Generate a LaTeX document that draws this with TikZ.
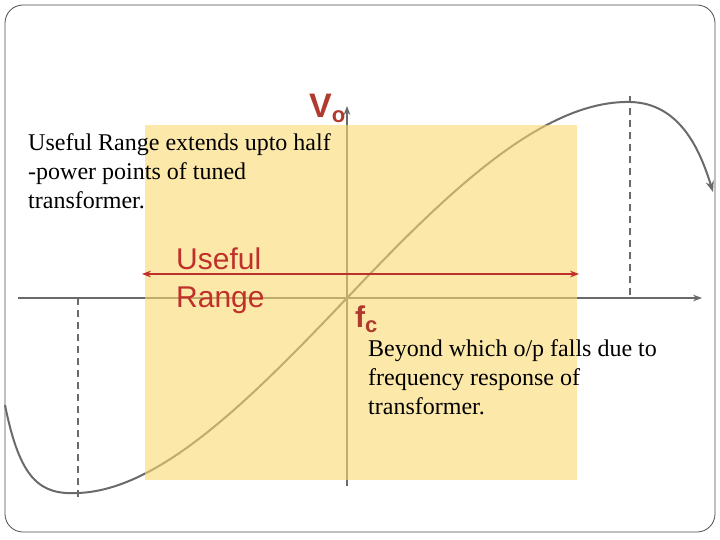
\documentclass[tikz,border=0pt]{standalone}
\usepackage{fontspec}
\setmainfont{Liberation Serif}
\setsansfont{Liberation Sans}
\usetikzlibrary{arrows.meta}
\definecolor{redt}{HTML}{C0302A}
\definecolor{lab}{HTML}{B03A2E}
\definecolor{yel}{HTML}{FAD870}
\definecolor{ax}{HTML}{6A6A6A}
\tikzset{axis/.style={draw=ax,line width=1.3pt,-{Stealth[length=9pt]}},
dashline/.style={draw=ax,line width=1.4pt,dash pattern=on 7pt off 5pt},
note/.style={font=\fontsize{24}{29}\selectfont,align=left,anchor=north west,inner sep=0pt}}
\begin{document}
\begin{tikzpicture}[x=1pt,y=-1pt]
\useasboundingbox (0,0) rectangle (720,540);
\draw[draw=black!70,line width=0.8pt,rounded corners=18pt] (5,5) rectangle (715,532);
\coordinate (xa) at (18,298); \coordinate (xb) at (702,298);
\coordinate (ya) at (347,486); \coordinate (yb) at (347,106);
\draw[axis] (xa) -- (xb);
\draw[axis] (ya) -- (yb);
\draw[dashline] (78,298) -- (78,502);
\draw[dashline] (630,96) -- (630,298);
\draw[draw=ax,line width=2pt,-{Stealth[length=11pt]}] (5,405) .. controls (20,480) and (40,495) .. (78,493)
 .. controls (160,490) and (250,400) .. (347,298)
 .. controls (440,200) and (540,100) .. (630,102)
 .. controls (680,103) and (700,150) .. (713,192);
\fill[yel,opacity=0.6] (145,125) rectangle (577,480);
\draw[redt,line width=1.3pt,{Stealth[length=9pt]}-{Stealth[length=9pt]}] (142,274) -- (579,274);
\node[note] (t1) at (28,133) {Useful Range extends upto half\\-power points of tuned\\transformer.};
\node[note] (t2) at (368,339) {Beyond which o/p falls due to\\frequency response of\\transformer.};
\node[font=\sffamily\fontsize{30}{38}\selectfont,text=redt,align=left,anchor=north west,inner sep=0pt] (u) at (176,248) {Useful\\Range};
\node[font=\sffamily\bfseries\fontsize{34}{34}\selectfont,text=lab,anchor=base west,inner sep=0pt] (v) at (309,118) {V\raisebox{-5pt}{\fontsize{22}{22}\selectfont o}};
\node[font=\sffamily\bfseries\fontsize{30}{30}\selectfont,text=lab,anchor=base west,inner sep=0pt] (f) at (355,327) {f\raisebox{-5pt}{\fontsize{22}{22}\selectfont c}};
\end{tikzpicture}
\end{document}
